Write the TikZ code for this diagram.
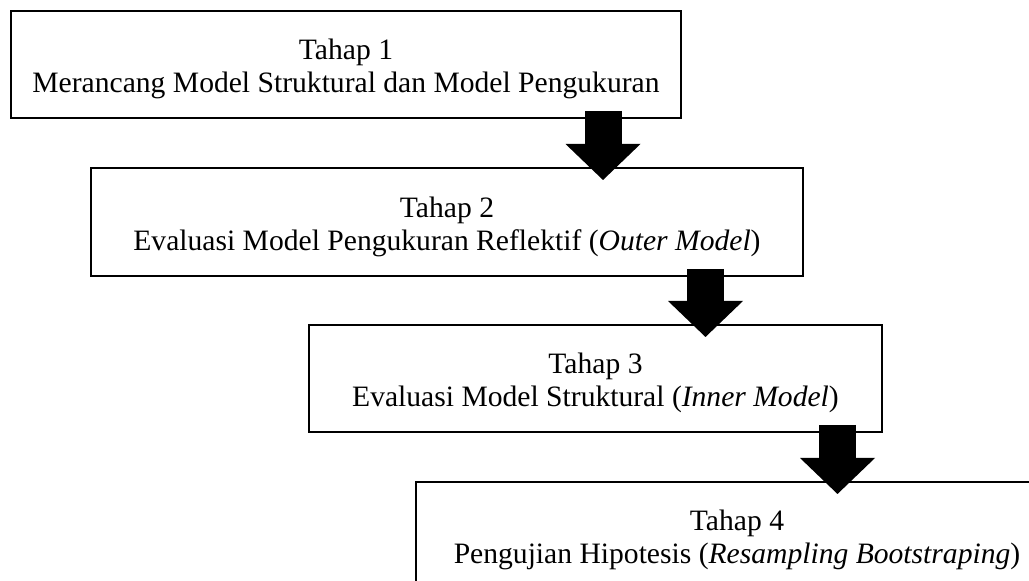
\documentclass[tikz,border=0pt]{standalone}
\usepackage{fontspec}
\setmainfont{Liberation Serif}
\usetikzlibrary{arrows.meta,positioning,fit}
\tikzset{
	stage/.style={draw=black, line width=1.1pt, inner sep=0pt, outer sep=0pt},
	stagetext/.style={align=center, inner sep=0pt, font=\fontsize{14.8}{16.2}\selectfont},
	blockarrow/.style={line width=18.5pt, -{Triangle[width=37.5pt,length=18pt,line width=0pt]}, shorten <=-3.5pt, shorten >=-6pt}
}
\begin{document}
\begin{tikzpicture}[x=0.5pt,y=-0.5pt]
		\useasboundingbox (0,0) rectangle (1029,581);

		% the four stages
		\node[stage, fit={(11,11) (681,118)}] (box1) {};
		\node[stage, fit={(91,168) (803,276)}] (box2) {};
		\node[stage, fit={(309,325) (882,432)}] (box3) {};
		\node[stage, fit={(416,482) (1058,589)}] (box4) {};

		\node[stagetext, above=9.6pt of box1.south] (txt1) {Tahap 1\\Merancang Model Struktural dan Model Pengukuran};
		\node[stagetext, above=9.6pt of box2.south] (txt2) {Tahap 2\\Evaluasi Model Pengukuran Reflektif (\textit{Outer Model})};
		\node[stagetext, above=9.6pt of box3.south] (txt3) {Tahap 3\\Evaluasi Model Struktural (\textit{Inner Model})};
		\node[stagetext, above=9.6pt of box4.south] (txt4) {Tahap 4\\Pengujian Hipotesis (\textit{Resampling Bootstraping})};

		% block arrows
		\coordinate (ax1) at (603,0);
		\coordinate (ax2) at (705.5,0);
		\coordinate (ax3) at (837.5,0);
		\draw[blockarrow] (box1.south -| ax1) -- (box2.north -| ax1);
		\draw[blockarrow] (box2.south -| ax2) -- (box3.north -| ax2);
		\draw[blockarrow] (box3.south -| ax3) -- (box4.north -| ax3);
\end{tikzpicture}
\end{document}
